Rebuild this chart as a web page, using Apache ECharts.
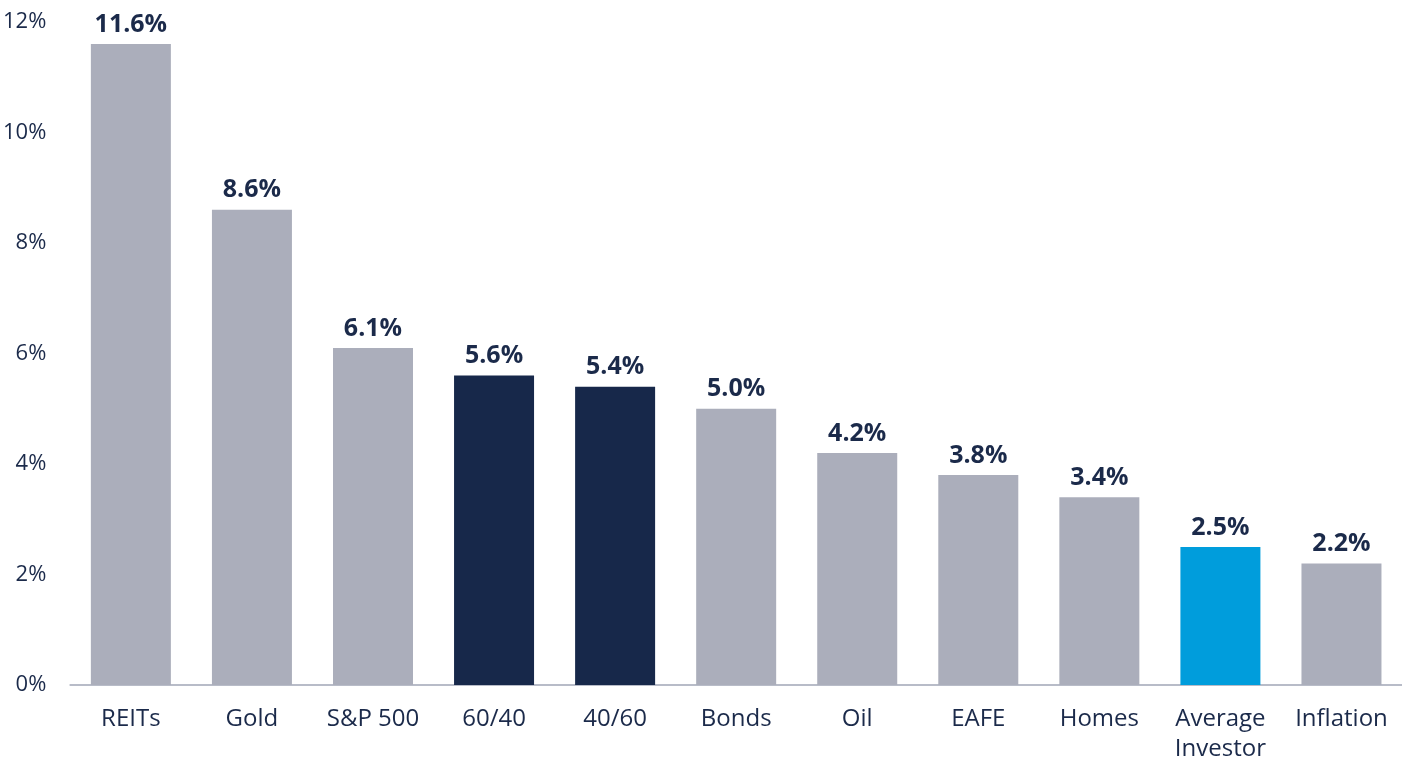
<!DOCTYPE html>
<html>
<head>
<meta charset="utf-8">
<script src="https://cdn.jsdelivr.net/npm/echarts@6/dist/echarts.min.js"></script>
<style>
  html, body { margin: 0; padding: 0; background: #fff; }
  #main { width: 1402px; height: 764px; }
</style>
</head>
<body>
<div id="main"></div>
<script>
var categories = ['REITs', 'Gold', 'S&P 500', '60/40', '40/60', 'Bonds', 'Oil', 'EAFE', 'Homes', 'Average\nInvestor', 'Inflation'];
var returns = [11.6, 8.6, 6.1, 5.6, 5.4, 5.0, 4.2, 3.8, 3.4, 2.5, 2.2];
var barColors = ['#abaebb', '#abaebb', '#abaebb', '#17284a', '#17284a', '#abaebb', '#abaebb', '#abaebb', '#abaebb', '#009ddc', '#abaebb'];

var textColor = '#1b2a4a';
var chart = echarts.init(document.getElementById('main'));

chart.setOption({
  animation: false,
  textStyle: { fontFamily: '"Open Sans", sans-serif' },
  grid: { left: 69, right: 0, top: 22, bottom: 78 },
  xAxis: {
    type: 'category',
    data: categories,
    axisLine: { lineStyle: { color: '#b8bcc8', width: 2 } },
    axisTick: { show: false },
    axisLabel: { color: textColor, fontSize: 24, margin: 19, lineHeight: 30, interval: 0 }
  },
  yAxis: {
    type: 'value',
    min: 0,
    max: 12,
    interval: 2,
    splitLine: { show: false },
    axisLine: { show: false },
    axisTick: { show: false },
    axisLabel: { color: textColor, fontSize: 22, margin: 24, formatter: '{value}%' }
  },
  series: [{
    type: 'bar',
    barWidth: 80,
    data: returns.map(function (v, i) {
      return { value: v, itemStyle: { color: barColors[i] } };
    }),
    label: {
      show: true,
      position: 'top',
      distance: 7,
      color: textColor,
      fontSize: 25,
      fontWeight: 'bold',
      formatter: function (p) { return p.value.toFixed(1) + '%'; }
    }
  }]
});
</script>
</body>
</html>
